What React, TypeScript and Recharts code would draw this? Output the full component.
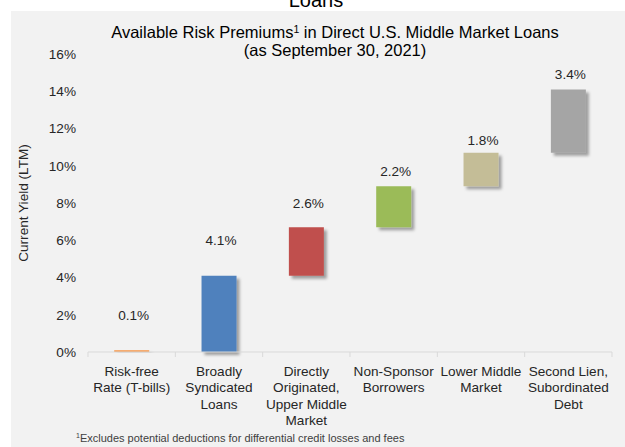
import React from 'react'
import { ComposedChart, Bar, Line, XAxis, YAxis, Cell, LabelList } from 'recharts'

const categories = [
  'Risk-free\nRate (T-bills)',
  'Broadly\nSyndicated\nLoans',
  'Directly\nOriginated,\nUpper Middle\nMarket',
  'Non-Sponsor\nBorrowers',
  'Lower Middle\nMarket',
  'Second Lien,\nSubordinated\nDebt',
]
// premium added at each step (%)
const premiums = [0.1, 4.1, 2.6, 2.2, 1.8, 3.4]
// where each floating bar starts (%)
const barBases = [0, 0, 4.1, 6.7, 8.9, 10.7]
// height of the value label above each bar (%)
const labelLevels = [2.0, 6.0, 8.0, 9.7, 11.4, 14.9]
const barColors = ['#f79646', '#4f81bd', '#c0504d', '#9bbb59', '#c4bd97', '#a5a5a5']
const yTicks = [0, 2, 4, 6, 8, 10, 12, 14, 16]

const FONT = '"Liberation Sans", Arial, sans-serif'
const TEXT = '#262626'
const PLOT_LEFT = 88
const PLOT_RIGHT = 612
const BAND = (PLOT_RIGHT - PLOT_LEFT) / categories.length

const data = categories.map((name, i) => ({
  name,
  base: barBases[i],
  premium: premiums[i],
  labelAt: labelLevels[i],
}))

function CategoryTick(props: any) {
  const { x, y, payload, index } = props
  const lines = String(payload.value).split('\n')
  return (
    <g>
      <line x1={x - BAND / 2} x2={x - BAND / 2} y1={y} y2={y + 5} stroke="#d9d9d9" />
      {index === categories.length - 1 && (
        <line x1={x + BAND / 2} x2={x + BAND / 2} y1={y} y2={y + 5} stroke="#d9d9d9" />
      )}
      {lines.map((t, i) => (
        <text
          key={i}
          x={x}
          y={y + 19 + i * 16.5}
          textAnchor="middle"
          dominantBaseline="central"
          fontSize={13.6}
          fontFamily={FONT}
          fill={TEXT}
        >
          {t}
        </text>
      ))}
    </g>
  )
}

export default function App() {
  return (
    <div style={{ position: 'absolute', left: 0, top: 0, width: 625, height: 447, background: '#fff', overflow: 'hidden', fontFamily: FONT }}>
      <svg width="0" height="0" style={{ position: 'absolute' }}>
        <defs>
          <filter id="barShadow" x="-30%" y="-30%" width="160%" height="160%">
            <feDropShadow dx="3" dy="3" stdDeviation="1.5" floodColor="#000" floodOpacity="0.35" />
          </filter>
        </defs>
      </svg>

      {/* cut-off heading from the slide above */}
      <div style={{ position: 'absolute', left: 216, width: 200, top: -10, lineHeight: '20px', fontSize: 20, textAlign: 'center', color: '#000' }}>
        Loans
      </div>

      <div style={{ position: 'absolute', left: 11, top: 11, right: 0, bottom: 0, background: '#f2f2f2' }} />

      <div style={{ position: 'absolute', left: 0, width: 670, top: 20, lineHeight: '18px', fontSize: 16.5, textAlign: 'center', color: '#000' }}>
        <div>
          Available Risk Premiums<span style={{ fontSize: 10.5, verticalAlign: 5 }}>1</span> in Direct U.S. Middle Market Loans
        </div>
        <div>(as September 30, 2021)</div>
      </div>

      <div
        style={{
          position: 'absolute',
          left: 24,
          top: 203,
          width: 200,
          transform: 'translate(-50%, -50%) rotate(-90deg)',
          textAlign: 'center',
          fontSize: 13.6,
          lineHeight: '16px',
          color: TEXT,
        }}
      >
        Current Yield (LTM)
      </div>

      <div style={{ position: 'absolute', left: 0, top: 0 }}>
        <ComposedChart width={625} height={447} data={data} margin={{ top: 54, right: 625 - PLOT_RIGHT, bottom: 35, left: 28 }} barCategoryGap="30%">
          <XAxis
            dataKey="name"
            interval={0}
            height={60}
            tickLine={false}
            tickSize={0}
            tickMargin={0}
            axisLine={{ stroke: '#d9d9d9' }}
            tick={<CategoryTick />}
          />
          <YAxis
            width={PLOT_LEFT - 28}
            domain={[0, 16]}
            ticks={yTicks}
            interval={0}
            axisLine={false}
            tickLine={false}
            tickSize={0}
            tickMargin={12}
            tickFormatter={(v) => `${v}%`}
            tick={{ fontSize: 13.6, fill: TEXT, fontFamily: FONT }}
          />
          <Bar dataKey="base" stackId="w" fill="transparent" isAnimationActive={false} />
          <Bar dataKey="premium" stackId="w" isAnimationActive={false} style={{ filter: 'url(#barShadow)' }}>
            {data.map((d, i) => (
              <Cell key={i} fill={barColors[i]} />
            ))}
          </Bar>
          <Line dataKey="labelAt" stroke="none" dot={false} activeDot={false} isAnimationActive={false}>
            <LabelList
              dataKey="premium"
              position="center"
              dx={2}
              formatter={(v: any) => `${Number(v).toFixed(1)}%`}
              style={{ fontSize: 13.6, fill: TEXT, fontFamily: FONT }}
            />
          </Line>
        </ComposedChart>
      </div>

      <div style={{ position: 'absolute', left: 76, top: 429, fontSize: 11, lineHeight: '14px', color: '#404040' }}>
        <span style={{ fontSize: 7, verticalAlign: 4 }}>1</span>Excludes potential deductions for differential credit losses and fees
      </div>
    </div>
  )
}
